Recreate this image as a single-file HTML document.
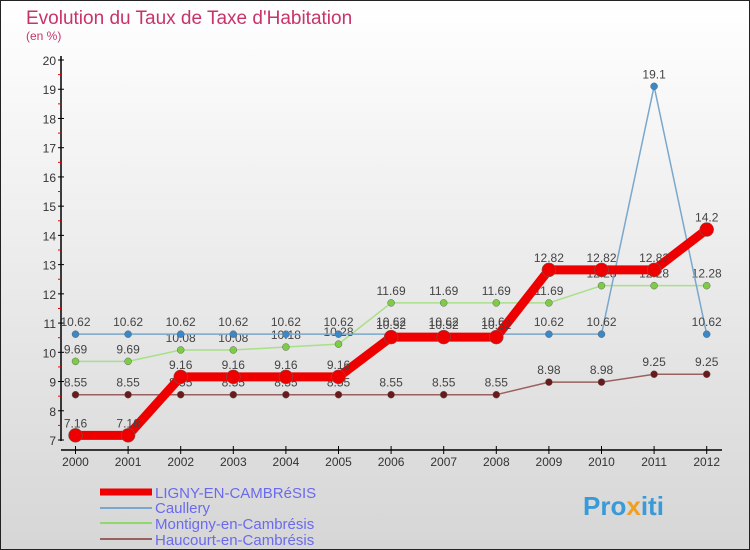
<!DOCTYPE html>
<html><head><meta charset="utf-8"><style>
body{margin:0}
#c{width:750px;height:550px;position:relative;box-sizing:border-box;border:1px solid #222;background:linear-gradient(#fff,#d6d6d6);font-family:"Liberation Sans",sans-serif;overflow:hidden}
</style></head><body>
<div id="c">
<svg id="s" width="750" height="550" style="position:absolute;left:-1px;top:-1px">
<text x="26" y="24" font-size="19" fill="#c8336a">Evolution du Taux de Taxe d'Habitation</text>
<text x="26" y="40" font-size="12" fill="#c8336a">(en %)</text>
<g id="g"></g>
<g>
<line x1="100" y1="492" x2="152" y2="492" stroke="#e00" stroke-width="7"/>
<text x="155" y="498" font-size="15" fill="#6a6aee">LIGNY-EN-CAMBRéSIS</text>
<line x1="100" y1="508" x2="152" y2="508" stroke="#7aa8cc" stroke-width="2"/>
<text x="155" y="513" font-size="15" fill="#6a6aee">Caullery</text>
<line x1="100" y1="523" x2="152" y2="523" stroke="#8fd870" stroke-width="2"/>
<text x="155" y="529" font-size="15" fill="#6a6aee">Montigny-en-Cambrésis</text>
<line x1="100" y1="539" x2="152" y2="539" stroke="#9a6060" stroke-width="2"/>
<text x="155" y="545" font-size="15" fill="#6a6aee">Haucourt-en-Cambrésis</text>
</g>
<text x="583" y="515" font-size="26" font-weight="bold" fill="#3a9ad8">Pro<tspan fill="#f0a020">x</tspan>iti</text>
</svg>
</div>
<script>
const years=[2000,2001,2002,2003,2004,2005,2006,2007,2008,2009,2010,2011,2012];
const ligny=[7.16,7.16,9.16,9.16,9.16,9.16,10.52,10.52,10.52,12.82,12.82,12.82,14.2];
const caullery=[10.62,10.62,10.62,10.62,10.62,10.62,10.62,10.62,10.62,10.62,10.62,19.1,10.62];
const montigny=[9.69,9.69,10.08,10.08,10.18,10.28,11.69,11.69,11.69,11.69,12.28,12.28,12.28];
const haucourt=[8.55,8.55,8.55,8.55,8.55,8.55,8.55,8.55,8.55,8.98,8.98,9.25,9.25];
const yTicks=[7,8,9,10,11,12,13,14,15,16,17,18,19,20];
const NS='http://www.w3.org/2000/svg';
const g=document.getElementById('g');
const X=i=>75.5+i*52.6;
const Y=v=>440-(v-7)*29.23;
function el(t,a){const e=document.createElementNS(NS,t);for(const k in a)e.setAttribute(k,a[k]);g.appendChild(e);return e;}
let e=el('line',{x1:61,y1:56,x2:61,y2:441,stroke:'#000','stroke-width':1.5});


e=el('line',{x1:61,y1:450,x2:722,y2:450,stroke:'#000','stroke-width':1.5});


yTicks.forEach((t,i)=>{
  el('line',{x1:58,y1:Y(t),x2:64,y2:Y(t),stroke:'#000'});
  if(i<yTicks.length-1)el('line',{x1:58,y1:Y(t+0.5),x2:61,y2:Y(t+0.5),stroke:'#e00'});
  const tx=el('text',{x:56,y:Y(t)+5,'font-size':12,fill:'#333','text-anchor':'end'});
  tx.textContent=t;
  
  
});
years.forEach((yr,i)=>{
  el('line',{x1:X(i),y1:446,x2:X(i),y2:454,stroke:'#000'});
  const tx=el('text',{x:X(i),y:466,'font-size':12,fill:'#333','text-anchor':'middle'});
  tx.textContent=yr;
  
  
});
function series(data,color,w,r,dotc,name){
  const p=el('polyline',{points:data.map((v,i)=>X(i)+','+Y(v)).join(' '),fill:'none',stroke:color,'stroke-width':w,'stroke-linejoin':'round'});
  
  
  data.forEach((v,i)=>{
    const c=el('circle',{cx:X(i),cy:Y(v),r:r,fill:dotc,stroke:'#666','stroke-width':0.5});
    
    
    const t=el('text',{x:X(i),y:Y(v)-8,'font-size':12,fill:'#444','text-anchor':'middle'});
    t.textContent=v;
    
    
  });
}
series(haucourt,'#9a6060',1.5,3.5,'#6a1a1a','haucourt');
series(montigny,'#a8e088',1.5,3.5,'#7ccc44','montigny');
series(caullery,'#7aa8cc',1.5,3.5,'#3a88c8','caullery');
series(ligny,'#e00',9,7,'#e00','ligny');
</script>
</body></html>
